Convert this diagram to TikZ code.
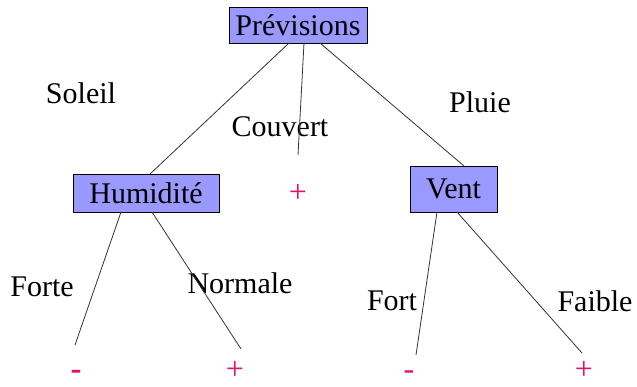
\documentclass[tikz,border=0pt]{standalone}
\usepackage{fontspec}
\setmainfont{Liberation Serif}
\definecolor{boxfill}{HTML}{9999FF}
\definecolor{signcol}{RGB}{220,20,100}
\definecolor{linecol}{HTML}{333333}
\begin{document}
\begin{tikzpicture}[x=1pt,y=-1pt,
  attr/.style={draw=black,line width=0.9pt,fill=boxfill,inner sep=0pt,
    font=\fontsize{30}{32}\selectfont},
  lbl/.style={inner sep=0pt,font=\fontsize{30}{32}\selectfont},
  sign/.style={inner sep=0pt,text=signcol,anchor=base,text depth=0pt,
    font=\fontsize{32}{34}\selectfont},
  edge/.style={draw=linecol,line width=0.8pt}]
\useasboundingbox (0,0) rectangle (637,386);
% boxes
\node[attr,minimum width=138pt,minimum height=36pt] (prev) at (298,25) {Prévisions};
\node[attr,minimum width=146pt,minimum height=38pt] (hum) at (146,193) {Humidité};
\node[attr,minimum width=87pt,minimum height=46pt] (vent) at (453.5,189) {Vent};
% signs
\node[sign] (sCouv) at (298,202) {+};
\node[sign,font=\fontsize{33}{35}\selectfont\bfseries] (sForte) at (76,379) {-};
\node[sign] (sNorm) at (235,379) {+};
\node[sign] (sFort) at (409,379) {-};
\node[sign] (sFaib) at (584,379) {+};
% labels
\node[lbl] (lSol) at (81,93) {Soleil};
\node[lbl] (lCouv) at (280,127) {Couvert};
\node[lbl] (lPluie) at (480,102) {Pluie};
\node[lbl] (lForte) at (42,287) {Forte};
\node[lbl] (lNorm) at (240,283) {Normale};
\node[lbl] (lFort) at (392,301) {Fort};
\node[lbl] (lFaib) at (595,301) {Faible};
% connector end points
\coordinate (p1) at (289,43);
\coordinate (p2) at (304,43);
\coordinate (p3) at (320,43);
\coordinate (h1) at (150,174);
\coordinate (c1) at (298,155);
\coordinate (v1) at (464,166);
\coordinate (h2) at (121,212);
\coordinate (h3) at (152,212);
\coordinate (v2) at (437,212);
\coordinate (v3) at (457,212);
\coordinate (e1) at (75,345);
\coordinate (e2) at (241,349);
\coordinate (e3) at (416,355);
\coordinate (e4) at (582,353);
% connectors
\draw[edge] (p1) -- (h1);
\draw[edge] (p2) -- (c1);
\draw[edge] (p3) -- (v1);
\draw[edge] (h2) -- (e1);
\draw[edge] (h3) -- (e2);
\draw[edge] (v2) -- (e3);
\draw[edge] (v3) -- (e4);
\end{tikzpicture}
\end{document}
